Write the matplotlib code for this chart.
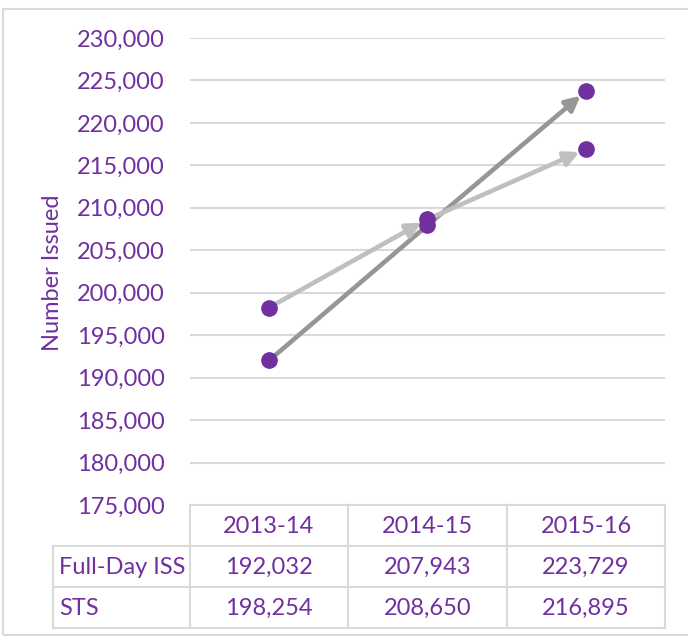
import matplotlib
matplotlib.use("Agg")
import matplotlib.pyplot as plt
from matplotlib.patches import Rectangle
from matplotlib.lines import Line2D

categories = ["2013-14", "2014-15", "2015-16"]
series_names = ["Full-Day ISS", "STS"]
full_day_iss = [192032, 207943, 223729]
sts = [198254, 208650, 216895]
yticks = list(range(175000, 230001, 5000))

PURPLE = "#7030A0"
GRID = "#D9D9D9"
colors = ["#969696", "#BFBFBF"]
# arrowheads drawn on each segment (the first dark head is hidden in the original)
heads = [[False, True], [True, True]]
FONT = "Lato"
FS = 17

W, H = 688, 636
fig = plt.figure(figsize=(W / 100, H / 100), dpi=100)
fig.patch.set_facecolor("white")

def fx(px):
    return px / W

def fy(py):
    return 1 - py / H

# outer border
fig.patches.append(Rectangle((fx(3), fy(635)), fx(690) - fx(3), fy(9) - fy(635),
                             transform=fig.transFigure, fill=False,
                             edgecolor=GRID, lw=1.5))

left, right, top, bottom = 190, 665, 38, 505
ax = fig.add_axes([fx(left), fy(bottom), fx(right) - fx(left), fy(top) - fy(bottom)])
ax.set_xlim(-0.5, len(categories) - 0.5)
ax.set_ylim(yticks[0], yticks[-1])
ax.set_yticks(yticks)
ax.set_yticklabels([f"{v:,}" for v in yticks], color=PURPLE, fontsize=FS, family=FONT)
ax.set_xticks([])
ax.tick_params(axis="y", length=0, pad=18)
for s in ax.spines.values():
    s.set_visible(False)
ax.grid(axis="y", color=GRID, lw=1.5)
ax.set_axisbelow(True)

fig.text(fx(53), fy(273), "Number Issued", color=PURPLE, fontsize=FS, family=FONT,
         rotation=90, ha="center", va="center")

x = list(range(len(categories)))
for vals, col, z, hd in [(full_day_iss, colors[0], 3, heads[0]), (sts, colors[1], 4, heads[1])]:
    for i in range(len(vals) - 1):
        style = "-|>" if hd[i] else "-"
        ax.annotate("", xy=(x[i + 1], vals[i + 1]), xytext=(x[i], vals[i]),
                    arrowprops=dict(arrowstyle=style, color=col, lw=3.3,
                                    mutation_scale=22, shrinkA=0,
                                    shrinkB=5 if hd[i] else 0),
                    zorder=z)
    ax.plot(x, vals, linestyle="none", marker="o", markersize=11,
            color=PURPLE, zorder=6)

# data table
col_edges = [190, 348, 507, 665]
row_edges = [505, 546, 587, 628]
label_left = 53
tl = dict(color=GRID, lw=1.5)
fig.add_artist(Line2D([fx(190), fx(665)], [fy(505), fy(505)], transform=fig.transFigure, **tl))
for r in row_edges[1:]:
    fig.add_artist(Line2D([fx(label_left), fx(665)], [fy(r), fy(r)], transform=fig.transFigure, **tl))
for c in col_edges:
    fig.add_artist(Line2D([fx(c), fx(c)], [fy(505), fy(628)], transform=fig.transFigure, **tl))
fig.add_artist(Line2D([fx(label_left), fx(label_left)], [fy(546), fy(628)], transform=fig.transFigure, **tl))

txt = dict(color=PURPLE, fontsize=FS, family=FONT, va="center", transform=fig.transFigure)
for j, cat in enumerate(categories):
    cx = (col_edges[j] + col_edges[j + 1]) / 2
    fig.text(fx(cx), fy((row_edges[0] + row_edges[1]) / 2 + 1), cat, ha="center", **txt)
for r, (name, vals) in enumerate(zip(series_names, [full_day_iss, sts])):
    cy = (row_edges[r + 1] + row_edges[r + 2]) / 2 + 1
    fig.text(fx(label_left + 6), fy(cy), name, ha="left", **txt)
    for j, v in enumerate(vals):
        cx = (col_edges[j] + col_edges[j + 1]) / 2
        fig.text(fx(cx), fy(cy), f"{v:,}", ha="center", **txt)

fig.savefig("out.png", dpi=100)
